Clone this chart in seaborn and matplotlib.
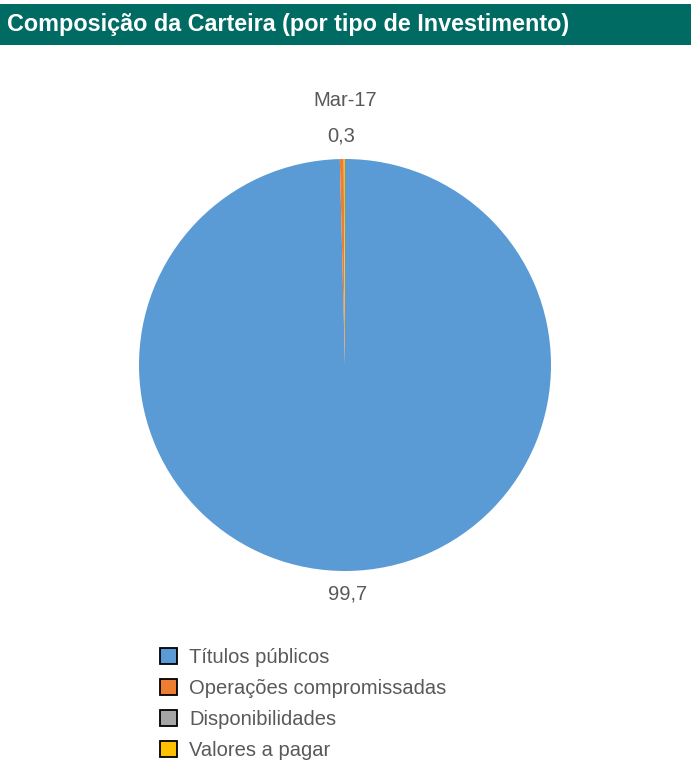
import matplotlib
matplotlib.use("Agg")
import matplotlib.pyplot as plt
from matplotlib.patches import Rectangle, Patch
import seaborn as sns

categories = ["Títulos públicos", "Operações compromissadas", "Disponibilidades", "Valores a pagar"]
values = [99.7, 0.3, 0.0, 0.1]
value_labels = ["99,7", "0,3", "", ""]
series_name = "Mar-17"
title = "Composição da Carteira (por tipo de Investimento)"
colors = ["#5B9BD5", "#ED7D31", "#A5A5A5", "#FFC000"]

sns.set_theme(style="white")
plt.rcParams["font.family"] = ["Liberation Sans", "DejaVu Sans"]

W, H = 691, 769
fig = plt.figure(figsize=(W / 100, H / 100), dpi=100)

# title banner
fig.patches.append(Rectangle((0, 1 - 45 / H), 1, 41 / H, transform=fig.transFigure,
                             facecolor="#006B63", edgecolor="none", zorder=0))
fig.text(7 / W, 1 - 25 / H, title, color="white", fontsize=16.8, fontweight="bold",
         ha="left", va="center")

# pie axes
cx, cy, r = 345, 365, 206
ax = fig.add_axes([(cx - r) / W, 1 - (cy + r) / H, 2 * r / W, 2 * r / H])
wedges, texts = ax.pie(values, colors=colors, startangle=90, counterclock=False,
                       labels=value_labels, labeldistance=1.11,
                       textprops=dict(color="#595959", fontsize=14.5),
                       wedgeprops=dict(linewidth=0))
for t in texts:
    t.set_ha("center")
    t.set_va("center")
ax.set_xlim(-1, 1)
ax.set_ylim(-1, 1)
ax.set_aspect("equal")
ax.axis("off")

fig.text(cx / W, 1 - 101 / H, series_name, color="#595959", fontsize=14.5,
         ha="center", va="center")

handles = [Patch(facecolor=c, edgecolor="black", linewidth=1.3) for c in colors]
fig.legend(handles, categories, loc="upper left", bbox_to_anchor=(156 / W, 1 - 644 / H),
           frameon=False, fontsize=14.5, labelcolor="#595959",
           handlelength=0.85, handleheight=0.85, handletextpad=0.6, labelspacing=0.6,
           borderaxespad=0, borderpad=0.2)

fig.savefig("out.png", dpi=100)
